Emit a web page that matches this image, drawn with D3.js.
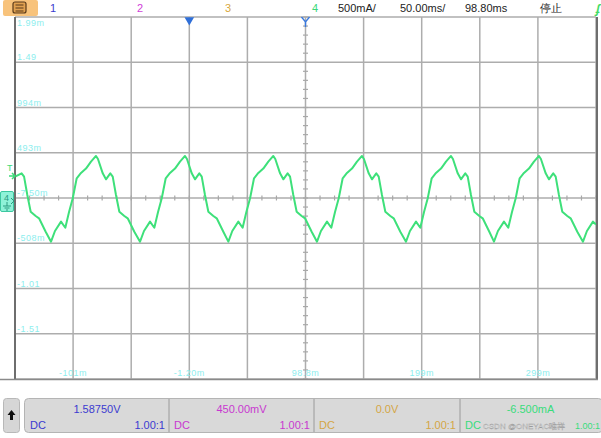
<!DOCTYPE html>
<html><head><meta charset="utf-8">
<script src="https://cdn.jsdelivr.net/npm/d3@7/dist/d3.min.js"></script>
<style>
html,body{margin:0;padding:0;background:#fff;overflow:hidden}
svg{display:block;font-family:"Liberation Sans",Arial,sans-serif}
</style></head><body>
<svg id="c" width="601" height="438"></svg>
<script>
// ---- data (time in ms, current in mA) ----
const timeMs = [-151.2,-145.5,-143.4,-140.6,-137.7,-133.4,-130.5,-124.8,
 -120.2,-116.8,-111.6,-107.9,-104.7,-101.5,-98.1,-94.4,-90.1,-85.8,-81.5,-79.8,-75.7,-72.9,-69.2,-67.1,-64.3,-61.4,-57.1,-54.2,-48.5,
 -43.6,-40.2,-35.0,-31.3,-28.1,-24.9,-21.5,-17.8,-13.5,-9.2,-4.9,-3.2,0.9,3.7,7.4,9.5,12.3,15.2,19.5,22.4,28.1,
 32.4,35.8,41.0,44.7,47.9,51.1,54.5,58.2,62.5,66.8,71.1,72.8,76.9,79.7,83.4,85.5,88.3,91.2,95.5,98.4,104.1,
 108.7,112.1,117.3,121.0,124.2,127.4,130.8,134.5,138.8,143.1,147.4,149.1,153.2,156.0,159.7,161.8,164.6,167.5,171.8,174.7,180.4,
 185.3,188.7,193.9,197.6,200.8,204.0,207.4,211.1,215.4,219.7,224.0,225.7,229.8,232.6,236.3,238.4,241.2,244.1,248.4,251.3,257.0,
 261.0,264.4,269.6,273.3,276.5,279.7,283.1,286.8,291.1,295.4,299.7,301.4,305.5,308.3,312.0,314.1,316.9,319.8,324.1,327.0,332.7,
 337.6,341.0,346.2,348.8];
const currentMa = [228,265,228,26,-159,-206,-232,-380,
 -490,-372,-269,-336,-162,-11,210,269,318,394,457,423,265,199,265,228,26,-159,-206,-232,-380,
 -490,-372,-269,-336,-162,-11,210,269,318,394,457,423,265,199,265,228,26,-159,-206,-232,-380,
 -490,-372,-269,-336,-162,-11,210,269,318,394,457,423,265,199,265,228,26,-159,-206,-232,-380,
 -490,-372,-269,-336,-162,-11,210,269,318,394,457,423,265,199,265,228,26,-159,-206,-232,-380,
 -490,-372,-269,-336,-162,-11,210,269,318,394,457,423,265,199,265,228,26,-159,-206,-232,-380,
 -490,-372,-269,-336,-162,-11,210,269,318,394,457,423,265,199,265,228,26,-159,-206,-232,-380,
 -490,-372,-269,-300];

const yTickValues = [1992.5,1492.5,992.5,492.5,-7.5,-507.5,-1007.5,-1507.5];
const yTickLabels = ["1.99m","1.49","994m","493m","-7.50m","-508m","-1.01","-1.51"];
const xTickValues = [-101.2,-1.2,98.8,198.8,298.8];
const xTickLabels = ["-101m","-1.20m","98.8m","199m","299m"];

const headerChannels = [{t:"1",c:"#3b3bd0"},{t:"2",c:"#d040d8"},{t:"3",c:"#d8a840"},{t:"4",c:"#3ad878"}];
const headerInfo = ["500mA/","50.00ms/","98.80ms","停止"];
const panelMain = ["1.58750V","450.00mV","0.0V","-6.500mA"];
const panelColors = ["#3b3bd0","#c838d0","#d4a646","#38dc7c"];
const panelCoupling = ["DC","DC","DC","DC"];
const panelProbe = ["1.00:1","1.00:1","1.00:1","1.00:1"];

// ---- layout ----
const L=15, R=596, T=17, B=379;
const svg = d3.select("#c");
const x = d3.scaleLinear().domain([-151.2,348.8]).range([L,R]);
const y = d3.scaleLinear().domain([-2007.5,1992.5]).range([B,T]);

// header
const menu = svg.append("g");
menu.append("rect").attr("x",3).attr("y",0).attr("width",35).attr("height",16).attr("rx",2).attr("fill","#f8c37c");
menu.append("rect").attr("x",13).attr("y",2).attr("width",13).attr("height",11).attr("rx",2).attr("fill","#e0a050").attr("stroke","#5a3a1a").attr("stroke-width",1.2);
[5,8,11].forEach(v=>menu.append("line").attr("x1",15.5).attr("x2",23.5).attr("y1",v).attr("y2",v).attr("stroke","#5a3a1a").attr("stroke-width",1));
const chX=[53,140,228,315];
headerChannels.forEach((d,i)=>svg.append("text").attr("x",chX[i]).attr("y",12).attr("text-anchor","middle").attr("font-size",11).attr("fill",d.c).text(d.t));
const infoX=[338,400,465,540];
headerInfo.forEach((d,i)=>svg.append("text").attr("x",infoX[i]).attr("y",12).attr("font-size",11).attr("fill","#222").text(d));
svg.append("text").attr("x",596).attr("y",13).attr("font-size",12).attr("font-style","italic").attr("font-weight","bold").attr("fill","#44dd66").text("ʄ");

// grid
const g = svg.append("g");
const xGrid = d3.range(0,11).map(i=>-151.2+i*50);
const yGrid = d3.range(0,9).map(i=>-2007.5+i*500);
g.selectAll(".vg").data(xGrid).join("line").attr("x1",d=>x(d)).attr("x2",d=>x(d)).attr("y1",T).attr("y2",B)
 .attr("stroke","#adadad").attr("stroke-width",1.5);
g.selectAll(".hg").data(yGrid).join("line").attr("x1",L).attr("x2",R).attr("y1",d=>y(d)).attr("y2",d=>y(d))
 .attr("stroke","#adadad").attr("stroke-width",1.5);
// minor ticks on center axes
const xMinor = d3.range(0,41).map(i=>-151.2+i*12.5);
const yMinor = d3.range(0,41).map(i=>-2007.5+i*100);
g.selectAll(".xm").data(xMinor).join("line").attr("x1",d=>x(d)).attr("x2",d=>x(d)).attr("y1",y(-7.5)-2.5).attr("y2",y(-7.5)+2.5).attr("stroke","#a8a8a8").attr("stroke-width",1.2);
g.selectAll(".ym").data(yMinor).join("line").attr("y1",d=>y(d)).attr("y2",d=>y(d)).attr("x1",x(98.8)-2.5).attr("x2",x(98.8)+2.5).attr("stroke","#a8a8a8").attr("stroke-width",1.2);
// borders
g.append("line").attr("x1",L).attr("x2",L).attr("y1",T).attr("y2",B+1).attr("stroke","#6e6e6e").attr("stroke-width",2);
g.append("line").attr("x1",R+1).attr("x2",R+1).attr("y1",T).attr("y2",B+1).attr("stroke","#6e6e6e").attr("stroke-width",2);
g.append("line").attr("x1",0).attr("x2",R+2).attr("y1",B+0.5).attr("y2",B+0.5).attr("stroke","#8a8a8a").attr("stroke-width",1.5);

// axis labels (inside grid)
yTickValues.forEach((v,i)=>svg.append("text").attr("x",17).attr("y",i===0?y(v)+9:y(v)-2).attr("font-size",9).attr("fill","#8deeee").attr("letter-spacing",0.5).text(yTickLabels[i]));
xTickValues.forEach((v,i)=>svg.append("text").attr("x",x(v)).attr("y",B-3).attr("text-anchor","middle").attr("font-size",9).attr("fill","#8deeee").attr("letter-spacing",0.5).text(xTickLabels[i]));

// waveform
svg.append("defs").append("clipPath").attr("id","clip").append("rect").attr("x",L+1).attr("y",T).attr("width",R-L-1).attr("height",B-T);
const pts = timeMs.map((t,i)=>[t,currentMa[i]]);
svg.append("path").datum(pts).attr("clip-path","url(#clip)")
 .attr("d",d3.line().x(d=>x(d[0])).y(d=>y(d[1])))
 .attr("fill","none").attr("stroke","#3ee07a").attr("stroke-width",2).attr("stroke-linejoin","round");

// trigger markers top
svg.append("path").attr("d",d3.symbol(d3.symbolTriangle,40)()).attr("transform",`translate(${x(-1.2)},${T+3}) rotate(180)`).attr("fill","#2f6fd8");
svg.append("path").attr("d",`M${x(98.8)-4},${T} L${x(98.8)},${T+5} L${x(98.8)+4},${T} M${x(98.8)},${T+5} L${x(98.8)},${T+10}`).attr("fill","none").attr("stroke","#3a7ae0").attr("stroke-width",1.4);

// left markers
svg.append("text").attr("x",7).attr("y",171).attr("font-size",9).attr("fill","#3ddc7a").text("T");
svg.append("path").attr("d","M9,176 L15,176 M12,173 L15,176 L12,179").attr("fill","none").attr("stroke","#3ddc7a").attr("stroke-width",1.5);
svg.append("rect").attr("x",0.5).attr("y",191.5).attr("width",13).attr("height",20).attr("rx",1.5).attr("fill","#8ef2d8").attr("stroke","#3cc8a0");
svg.append("text").attr("x",4).attr("y",201).attr("font-size",9).attr("fill","#2a9a80").text("4");
svg.append("path").attr("d","M7,202 L7,206 M3,206 L11,206 M4.5,208 L9.5,208 M6,210 L8,210 M11,198 L14,201 L11,204").attr("fill","none").attr("stroke","#2a9a80").attr("stroke-width",1);

// bottom panel
svg.append("rect").attr("x",3.5).attr("y",398.5).attr("width",16).attr("height",34).attr("rx",3).attr("fill","#d6d6d6").attr("stroke","#b8b8b8");
svg.append("path").attr("d","M11.5,410 L7.5,415 L10,415 L10,420 L13,420 L13,415 L15.5,415 Z").attr("fill","#111");
svg.append("rect").attr("x",24.5).attr("y",398.5).attr("width",578).attr("height",34).attr("rx",4).attr("fill","#d9d9d9").attr("stroke","#b4b4b4");
const divX=[169,314,460];
divX.forEach(v=>svg.append("line").attr("x1",v).attr("x2",v).attr("y1",399).attr("y2",432).attr("stroke","#9a9a9a").attr("stroke-width",1));
const pL=[25,169,314,460], pR=[169,314,460,601];
panelMain.forEach((t,i)=>{
  const cx=(pL[i]+pR[i])/2;
  svg.append("text").attr("x",cx).attr("y",413).attr("text-anchor","middle").attr("font-size",11).attr("fill",panelColors[i]).text(t);
  svg.append("text").attr("x",pL[i]+5).attr("y",429).attr("font-size",11).attr("fill",panelColors[i]).text(panelCoupling[i]);
  if(i<3) svg.append("text").attr("x",pR[i]-4).attr("y",429).attr("text-anchor","end").attr("font-size",11).attr("fill",panelColors[i]).text(panelProbe[i]);
  else svg.append("text").attr("x",600).attr("y",429).attr("text-anchor","end").attr("font-size",9).attr("fill",panelColors[i]).text(panelProbe[i]);
});
svg.append("text").attr("x",483).attr("y",429).attr("font-size",8).attr("fill","#f2f2f2").attr("stroke","#9a9a9a").attr("stroke-width",0.35).text("CSDN @ONEYAC唯样");
</script>
</body></html>
